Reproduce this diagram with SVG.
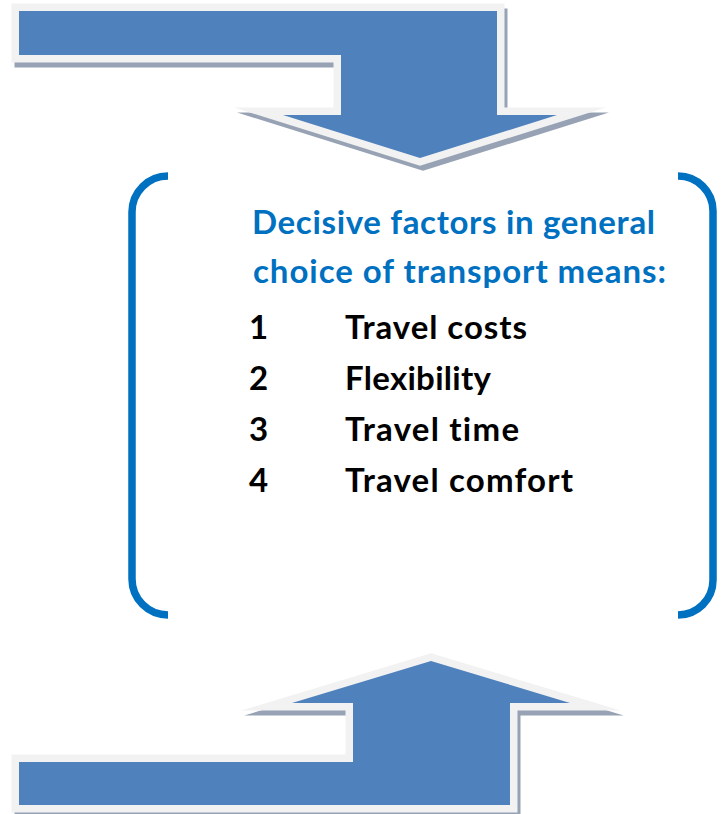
<svg xmlns="http://www.w3.org/2000/svg" xmlns:xlink="http://www.w3.org/1999/xlink" width="727" height="814" viewBox="0 0 727 814">
  <style>
    .shadow { fill:#97a3b4; stroke:#97a3b4; stroke-width:15; stroke-linejoin:miter; stroke-miterlimit:10; }
    .arrow { fill:#4f81bd; stroke:#f2f2f2; stroke-width:15; stroke-linejoin:miter; stroke-miterlimit:10; paint-order:stroke; }
    .bracket { fill:none; stroke:#0070c0; stroke-width:7.5; }
    .txt { font-family:"Lato","Liberation Sans",sans-serif; font-weight:700; font-size:33px; font-variant-ligatures:none; font-feature-settings:"liga" 0, "clig" 0; }
    .head { fill:#0070c0; }
    .item { fill:#000000; }
  </style>
  <defs>
    <!-- bent arrow coming in from the upper left and pointing down -->
    <path id="bent-down" d="M19,11 H497 V115 H557 L420,158 L283,115 H341 V55 H19 Z"/>
    <!-- bent arrow coming in from the lower left and pointing up -->
    <path id="bent-up" d="M19,805 H510 V703 H570 L431,661 L292,703 H353 V762 H19 Z"/>
  </defs>
  <rect width="727" height="814" fill="#ffffff"/>

  <g id="connectors">
    <g id="arrow-in-top">
      <use xlink:href="#bent-down" class="shadow" transform="translate(3,5)"/>
      <use xlink:href="#bent-down" class="arrow"/>
    </g>
    <g id="arrow-in-bottom">
      <use xlink:href="#bent-up" class="shadow" transform="translate(3,5)"/>
      <use xlink:href="#bent-up" class="arrow"/>
    </g>
  </g>

  <g id="factors">
    <path class="bracket" d="M168,176 A36,36 0 0 0 132,212 V579 A36,36 0 0 0 168,615"/>
    <path class="bracket" d="M678,176 A35,35 0 0 1 713,211 V580 A35,35 0 0 1 678,615"/>
    <text class="txt head" x="252" y="234" textLength="403">Decisive factors in general</text>
    <text class="txt head" x="253" y="283" textLength="413">choice of transport means:</text>
    <text class="txt item" x="249" y="339">1</text>
    <text class="txt item" x="345" y="339" textLength="182">Travel costs</text>
    <text class="txt item" x="249" y="390">2</text>
    <text class="txt item" x="345" y="390" textLength="146">Flexibility</text>
    <text class="txt item" x="249" y="441">3</text>
    <text class="txt item" x="345" y="441" textLength="174">Travel time</text>
    <text class="txt item" x="249" y="492">4</text>
    <text class="txt item" x="345" y="492" textLength="228">Travel comfort</text>
  </g>
</svg>
